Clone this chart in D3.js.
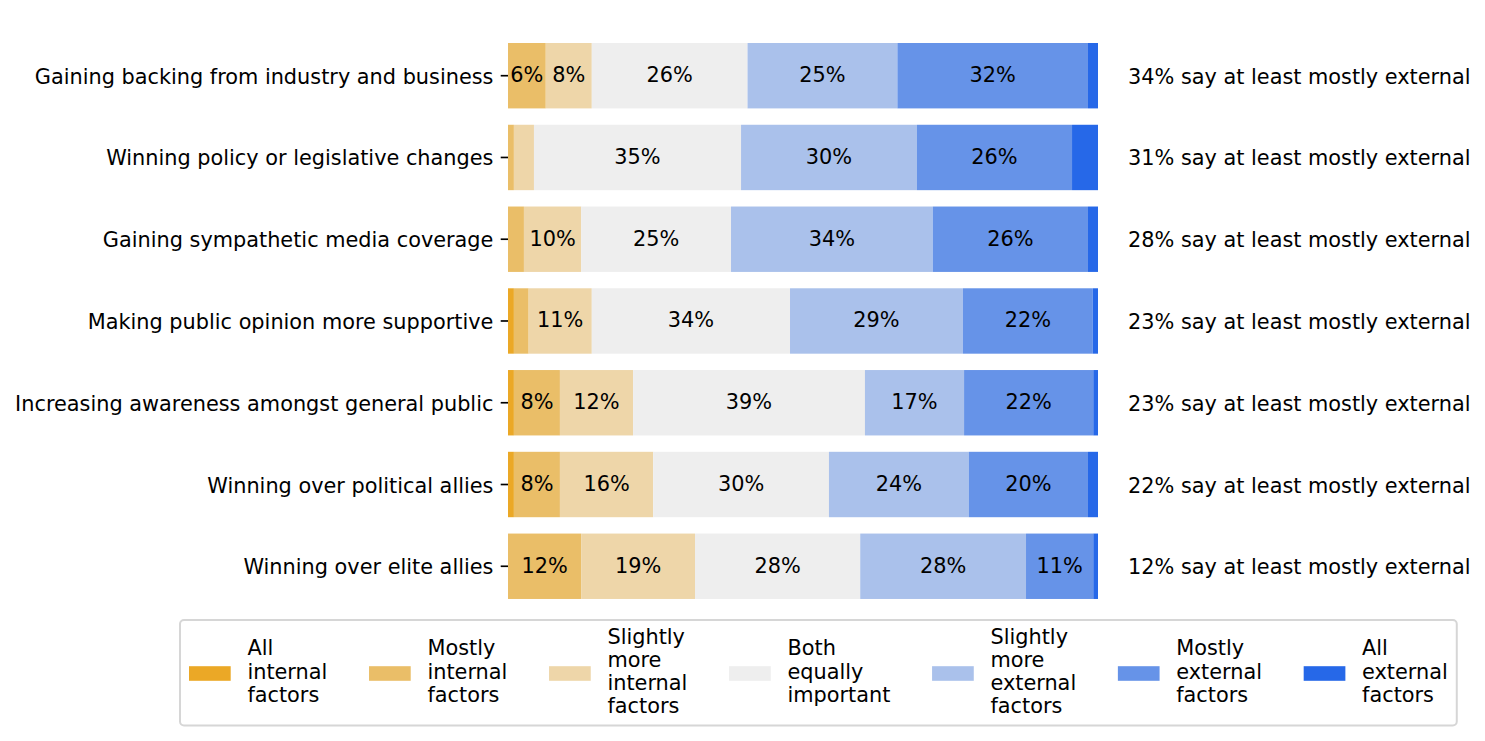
<!DOCTYPE html>
<html>
<head>
<meta charset="utf-8">
<script src="https://cdn.jsdelivr.net/npm/d3@7"></script>
<style>
  html, body { margin: 0; padding: 0; background: #ffffff; }
  svg { display: block; }
  text { font-family: "DejaVu Sans", sans-serif; fill: #000; }
</style>
</head>
<body>
<svg id="chart" width="1485" height="741"></svg>
<script>
// ---- data ----
const categories = [
  "Gaining backing from industry and business",
  "Winning policy or legislative changes",
  "Gaining sympathetic media coverage",
  "Making public opinion more supportive",
  "Increasing awareness amongst general public",
  "Winning over political allies",
  "Winning over elite allies"
];
const seriesNames = [
  "All internal factors",
  "Mostly internal factors",
  "Slightly more internal factors",
  "Both equally important",
  "Slightly more external factors",
  "Mostly external factors",
  "All external factors"
];
const legendLabels = [
  ["All", "internal", "factors"],
  ["Mostly", "internal", "factors"],
  ["Slightly", "more", "internal", "factors"],
  ["Both", "equally", "important"],
  ["Slightly", "more", "external", "factors"],
  ["Mostly", "external", "factors"],
  ["All", "external", "factors"]
];
const allInternal      = [0,   0,    0,    1.0,  1.0,  1.0,  0];
const mostlyInternal   = [6.4, 1.0,  2.7,  2.5,  7.8,  7.8,  12.4];
const slightlyInternal = [7.8, 3.4,  9.7,  10.7, 12.4, 15.8, 19.3];
const bothEqual        = [26.4,35.1, 25.4, 33.6, 39.3, 29.8, 28.0];
const slightlyExternal = [25.4,29.8, 34.2, 29.3, 16.8, 23.7, 28.1];
const mostlyExternal   = [32.3,26.3, 26.3, 22.0, 21.9, 20.2, 11.4];
const allExternal      = [1.7, 4.4,  1.7,  0.9,  0.8,  1.7,  0.8];
const colors = ["#EBA826", "#EABE68", "#EED6A9", "#EEEEEE", "#AAC1EB", "#6693E8", "#2668E8"];

const seriesValues = [allInternal, mostlyInternal, slightlyInternal, bothEqual,
                      slightlyExternal, mostlyExternal, allExternal];

// ---- build table ----
const table = categories.map((c, i) => {
  const row = { category: c };
  seriesNames.forEach((s, j) => { row[s] = seriesValues[j][i]; });
  return row;
});

const FS = 20.83;
const svg = d3.select("#chart");

const step = 81.76;
const y = d3.scaleBand()
  .domain(categories)
  .range([43 - 0.1 * step, 43 - 0.1 * step + 7 * step])
  .paddingInner(0.2)
  .paddingOuter(0.1);
const x = d3.scaleLinear().domain([0, 100]).range([508, 1098]);

const stack = d3.stack().keys(seriesNames);
const stacked = stack(table);

const color = d3.scaleOrdinal().domain(seriesNames).range(colors);

const gBars = svg.append("g");
stacked.forEach(layer => {
  const g = gBars.append("g").attr("fill", color(layer.key));
  g.selectAll("rect")
    .data(layer)
    .join("rect")
    .attr("x", d => x(d[0]))
    .attr("width", d => x(d[1]) - x(d[0]))
    .attr("y", d => y(d.data.category))
    .attr("height", y.bandwidth());
});

// bar labels
stacked.forEach(layer => {
  gBars.append("g").selectAll("text")
    .data(layer.filter(d => (d[1] - d[0]) >= 5))
    .join("text")
    .attr("x", d => (x(d[0]) + x(d[1])) / 2)
    .attr("y", d => y(d.data.category) + y.bandwidth() / 2 + 6.5)
    .attr("text-anchor", "middle")
    .style("font-size", FS + "px")
    .text(d => Math.round(d[1] - d[0]) + "%");
});

// y axis
const yAxis = d3.axisLeft(y).tickSize(7.3).tickPadding(7.3);
const gy = svg.append("g").attr("transform", "translate(508,0)").call(yAxis);
gy.select(".domain").remove();
gy.selectAll(".tick line").attr("stroke", "#000").attr("stroke-width", 1.67);
gy.selectAll(".tick text")
  .attr("dy", null)
  .attr("y", 8)
  .style("font-size", FS + "px")
  .style("font-family", "'DejaVu Sans', sans-serif")
  .attr("fill", "#000");

// right labels
svg.append("g").selectAll("text")
  .data(table)
  .join("text")
  .attr("x", 1128)
  .attr("y", d => y(d.category) + y.bandwidth() / 2 + 8)
  .style("font-size", FS + "px")
  .text(d => Math.round(d["Mostly external factors"] + d["All external factors"]) + "% say at least mostly external");

// legend
const legend = svg.append("g");
const frame = legend.append("rect");
const handleW = 41.7, handleH = 14.6, textPad = 16.7, colSpace = 41.7;
const handleY = 666.2;
const lineH = 23.1, avgBaseline = 678.5;
let hx = 189;
let lastRight = 0;
seriesNames.forEach((s, i) => {
  legend.append("rect")
    .attr("x", hx).attr("y", handleY)
    .attr("width", handleW).attr("height", handleH)
    .attr("fill", color(s));
  const lines = legendLabels[i];
  const t = legend.append("text")
    .attr("x", hx + handleW + textPad)
    .style("font-size", FS + "px");
  const n = lines.length;
  lines.forEach((ln, k) => {
    t.append("tspan")
      .attr("x", hx + handleW + textPad)
      .attr("y", avgBaseline + (k - (n - 1) / 2) * lineH)
      .text(ln);
  });
  let w = 0;
  t.selectAll("tspan").each(function () { w = Math.max(w, this.getComputedTextLength()); });
  lastRight = hx + handleW + textPad + w;
  hx = lastRight + colSpace;
});
frame
  .attr("x", 180).attr("y", 620)
  .attr("width", lastRight + 9 - 180).attr("height", 105.5)
  .attr("rx", 4).attr("ry", 4)
  .attr("fill", "#ffffff")
  .attr("stroke", "#d6d6d6")
  .attr("stroke-width", 2);
</script>
</body>
</html>
